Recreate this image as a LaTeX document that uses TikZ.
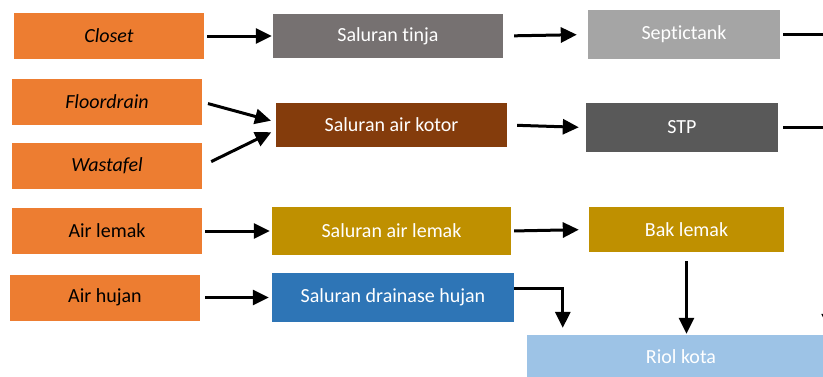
\documentclass[tikz,border=0pt]{standalone}
\usepackage{fontspec}
\setmainfont{Carlito}[Ligatures=NoCommon]
\usetikzlibrary{positioning,arrows.meta}

\definecolor{sumber}{HTML}{ED7D31}
\definecolor{tinja}{HTML}{767171}
\definecolor{septic}{HTML}{A5A5A5}
\definecolor{kotor}{HTML}{843C0C}
\definecolor{stp}{HTML}{595959}
\definecolor{lemak}{HTML}{BF9000}
\definecolor{hujan}{HTML}{2E75B6}
\definecolor{riol}{HTML}{9DC3E6}

\tikzset{
  box/.style={rectangle,inner sep=0pt,font=\fontsize{20}{24}\selectfont},
  source/.style={box,fill=sumber,text=black,minimum width=190pt,minimum height=46pt},
  pipe/.style={box,text=white,minimum width=234pt,minimum height=46pt},
  plant/.style={box,text=white,minimum width=192pt,minimum height=47pt},
  flow/.style={-{Triangle[length=16pt,width=15pt]},line width=3pt},
  line/.style={line width=3pt}
}

\begin{document}
\begin{tikzpicture}[x=1pt,y=-1pt,on grid]
	\useasboundingbox (0,0) rectangle (823,376);
	\clip (0,0) rectangle (823,376);

	% sumber air buangan
	\node[source] (closet) at (109,36) {\itshape Closet};
	\node[source] (floor) at (107,102) {\itshape Floordrain};
	\node[source] (wastafel) [below=64pt of floor] {\itshape Wastafel};
	\node[source] (airlemak) at (107,231) {Air lemak};
	\node[source] (airhujan) at (105,297.5) {Air hujan};

	% saluran
	\node[pipe,fill=tinja,minimum width=230pt,minimum height=44pt] (saltinja) [right=279pt of closet] {Saluran tinja};
	\node[pipe,fill=kotor,minimum width=231pt,minimum height=44pt] (salkotor) at (391.5,125) {Saluran air kotor};
	\node[pipe,fill=lemak,minimum width=239pt,minimum height=48pt] (sallemak) [right=284.5pt of airlemak] {Saluran air lemak};
	\node[pipe,fill=hujan,minimum width=242pt,minimum height=49pt] (salhujan) [right=288pt of airhujan] {Saluran drainase hujan};

	% pengolahan
	\node[plant,fill=septic,minimum height=49pt] (septictank) [right=296pt of saltinja,yshift=1.5pt] {Septictank};
	\node[plant,fill=stp,minimum height=49pt] (stp) [right=290.5pt of salkotor,yshift=-2.5pt] {STP};
	\node[plant,fill=lemak,minimum width=195pt,minimum height=45pt] (baklemak) [right=295pt of sallemak,yshift=1.5pt] {Bak lemak};
	\node[box,fill=riol,text=white,minimum width=308pt,minimum height=44pt] (riolkota) at (681,357) {Riol kota};

	\coordinate (turun) at ([xshift=-6pt]riolkota.north east);

	\draw[flow,shorten <=3pt,shorten >=1pt] (closet) -- (saltinja);
	\draw[flow,shorten <=11pt,shorten >=11pt] (saltinja.east) -- (septictank.west);
	\draw[flow,shorten <=6pt,shorten >=5pt] (floor.east) -- ([yshift=3pt]salkotor.west);
	\draw[flow,shorten <=10pt,shorten >=5pt] (wastafel.east) -- ([yshift=-5pt]salkotor.west);
	\draw[flow,shorten <=10pt,shorten >=7pt] (salkotor.east) -- (stp.west);
	\draw[flow,shorten <=3pt,shorten >=2pt] (airlemak) -- (sallemak);
	\draw[flow,shorten <=3pt,shorten >=10pt] (sallemak.east) -- (baklemak.west);
	\draw[flow,shorten <=5pt,shorten >=3pt] (airhujan) -- (salhujan);
	\draw[flow,shorten >=7pt] ([yshift=9pt]salhujan.east) -| ([xshift=36pt]riolkota.north west);
	\draw[flow,shorten <=9pt,shorten >=1pt] (baklemak.south) -- (baklemak.south |- riolkota.north);
	\draw[flow,shorten <=3pt,shorten >=5pt] (septictank.east) -- (septictank.east -| turun) -- (turun);
	\draw[line,shorten <=5pt] (stp.east) -- (stp.east -| turun);
\end{tikzpicture}
\end{document}
